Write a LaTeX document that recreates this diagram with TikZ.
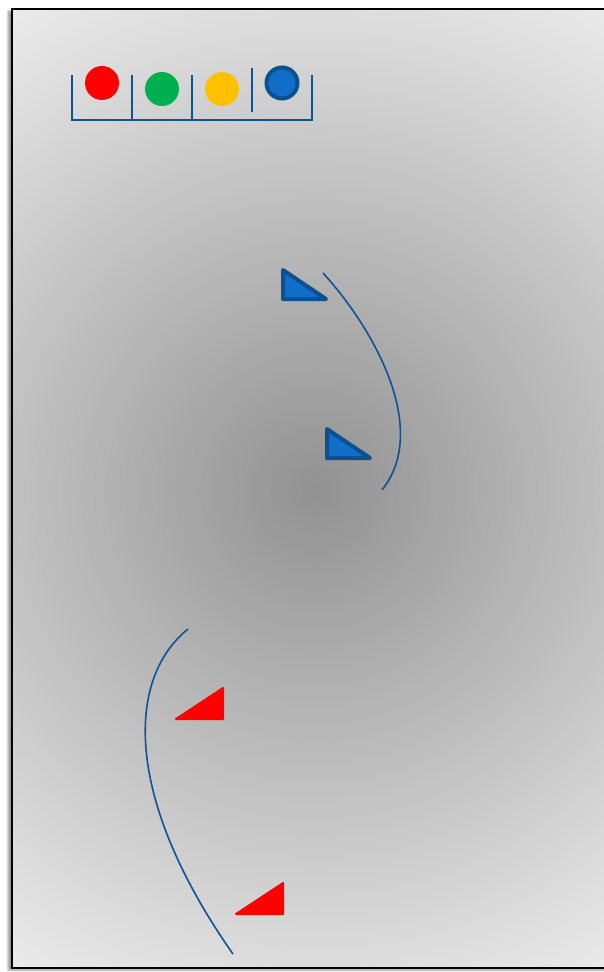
\documentclass[tikz,border=0pt]{standalone}
\usetikzlibrary{shadows.blur}
\definecolor{lineblue}{RGB}{16,82,150}
\definecolor{darkblue}{RGB}{12,80,145}
\definecolor{midblue}{RGB}{17,110,200}
\definecolor{legred}{RGB}{255,0,0}
\definecolor{leggreen}{RGB}{0,176,80}
\definecolor{legyellow}{RGB}{255,192,0}
\begin{document}
\begin{tikzpicture}[x=1pt, y=-1pt,
        dot/.style={circle, minimum size=34pt, inner sep=0pt},
        bracket/.style={lineblue, line width=2pt},
        arc/.style={lineblue, line width=1.6pt},
        bluetri/.style={draw=darkblue, fill=midblue, line width=4pt, line join=round},
        redtri/.style={draw=legred, fill=legred, line width=2pt, line join=round}
    ]
    \useasboundingbox (0,0) rectangle (604,972);

    % --- Background ---
    \fill[black!20, blur shadow={shadow xshift=-4pt, shadow yshift=-2pt, shadow blur steps=8}] (12,9) rectangle (620,968);
    \begin{scope}
        \clip (12,9) rectangle (620,968);
        \shade[inner color=black!43, outer color=black!7] (315,490) circle (580);
    \end{scope}
    \draw[black, line width=2pt] (620,9) -- (12,9) -- (12,968) -- (620,968);

    % --- Legend ---
    \draw[bracket] (72,75) -- (72,120) -- (312,120) -- (312,75);
    \draw[bracket] (132,75) -- (132,120);
    \draw[bracket] (192,75) -- (192,120);
    \draw[bracket] (252,68) -- (252,112);
    \node[dot, fill=legred] (red) at (102,83) {};
    \node[dot, fill=leggreen] (green) at (162,89) {};
    \node[dot, fill=legyellow] (yellow) at (222,89) {};
    \node[dot, fill=midblue, draw=darkblue, line width=4pt, minimum size=31pt] (blue) at (282,83) {};

    % --- Upper pair ---
    \draw[bluetri] (283,270) -- (283,299) -- (326,299) -- cycle;
    \draw[bluetri] (327,429) -- (327,458) -- (370,458) -- cycle;
    \draw[arc] (323,273) .. controls (375,330) and (430,430) .. (382,490);

    % --- Lower pair ---
    \draw[redtri] (176,719) -- (223,688) -- (223,719) -- cycle;
    \draw[redtri] (236,914) -- (283,883) -- (283,914) -- cycle;
    \draw[arc] (188,629) .. controls (125,680) and (125,800) .. (233,954);

\end{tikzpicture}
\end{document}
